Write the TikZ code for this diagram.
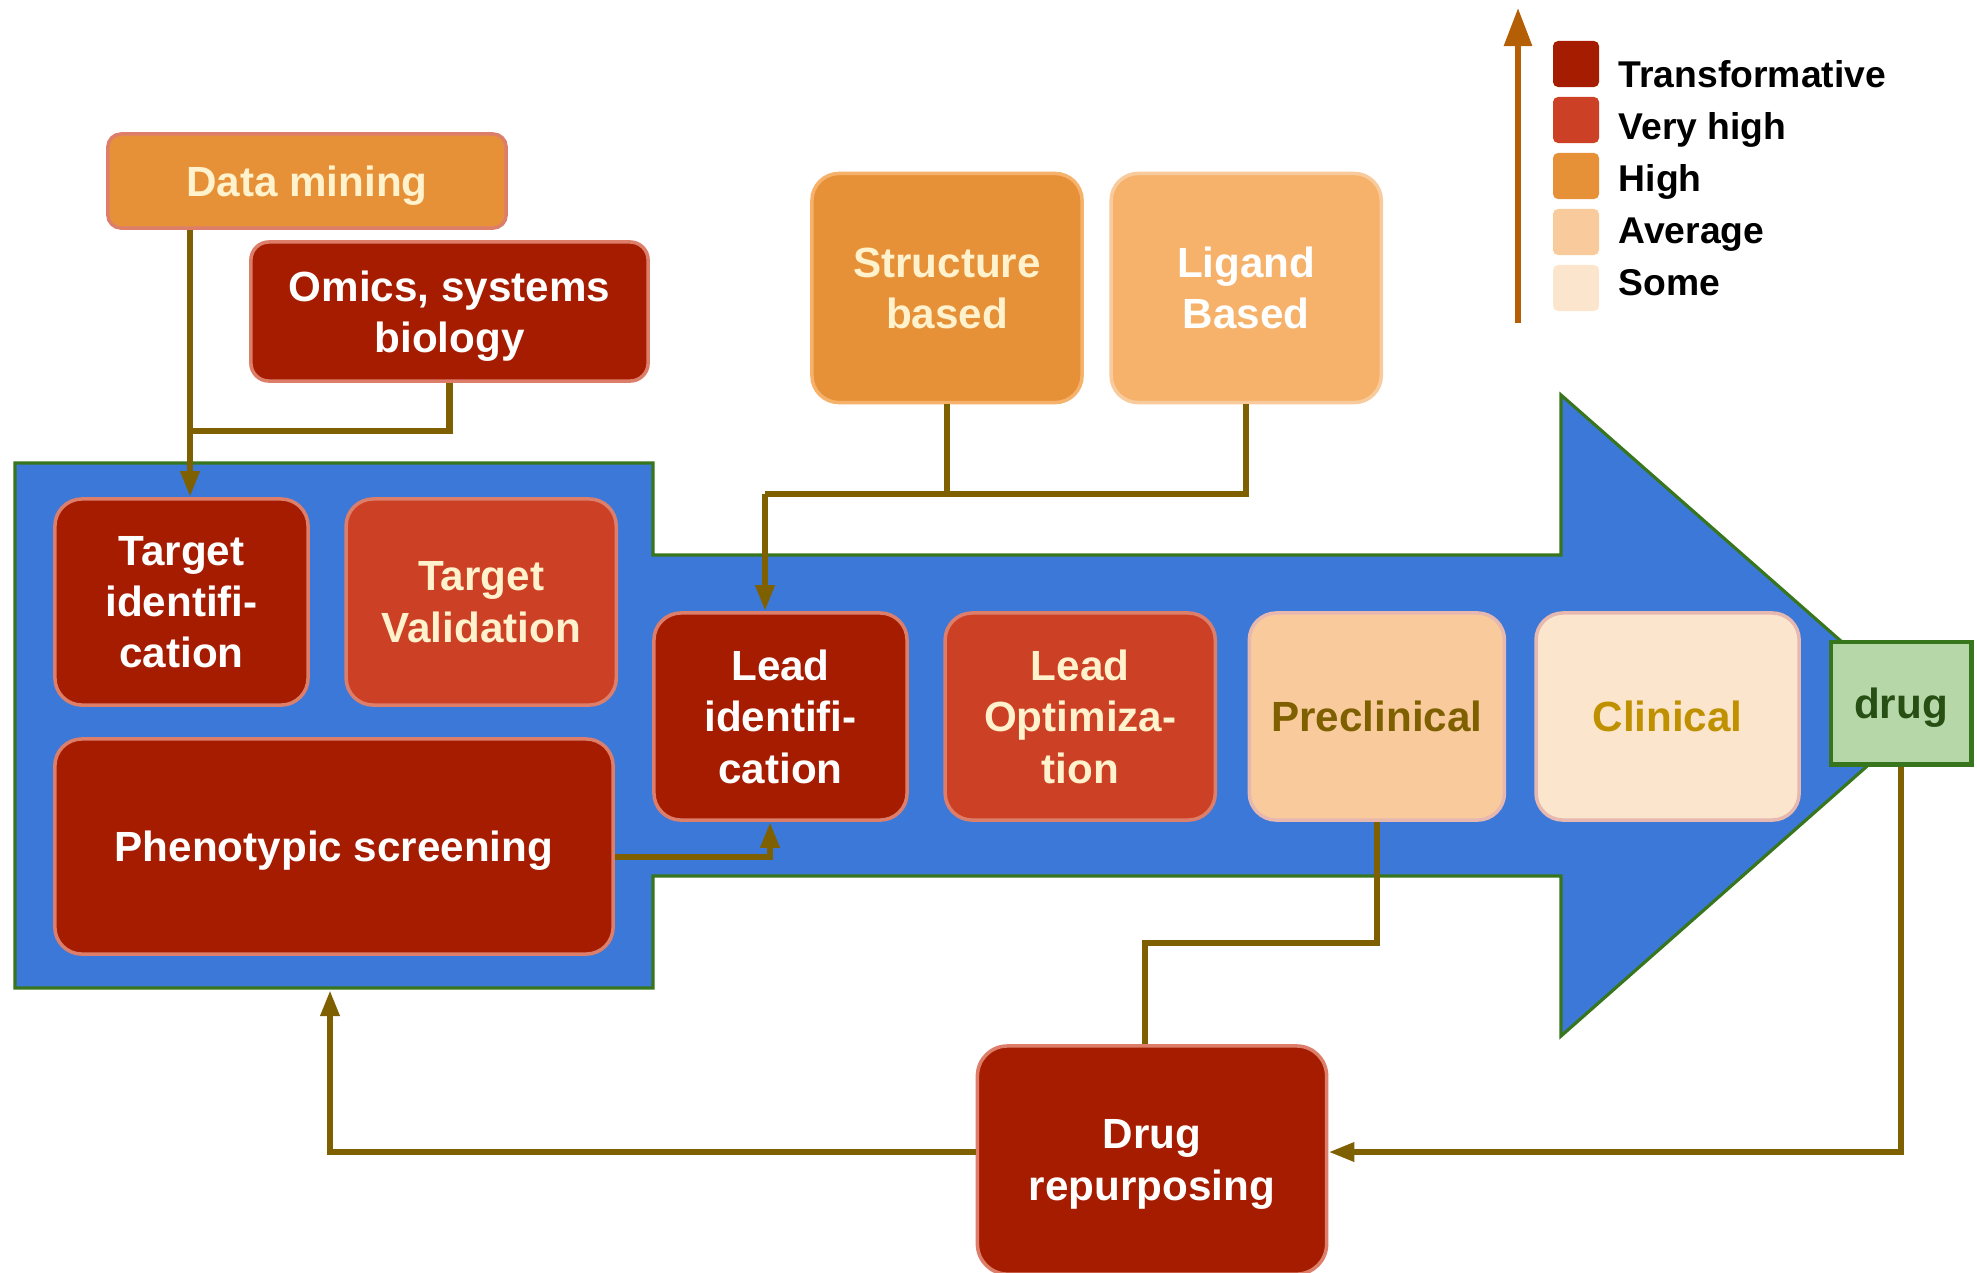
\documentclass[tikz,border=0pt]{standalone}
\usepackage{fontspec}
\setmainfont{Liberation Sans}
\usepackage{xcolor}
\usepackage{tikz}
\usetikzlibrary{positioning,arrows.meta}

\definecolor{transfred}{HTML}{A61C00}
\definecolor{vhighred}{HTML}{CC4125}
\definecolor{highorange}{HTML}{E69138}
\definecolor{liteorange}{HTML}{F6B26B}
\definecolor{avgpeach}{HTML}{F9CB9C}
\definecolor{somecream}{HTML}{FCE5CD}
\definecolor{salmonrim}{HTML}{DD7E6B}
\definecolor{pinkrim}{HTML}{E6B8AF}
\definecolor{creamtext}{HTML}{FFF2CC}
\definecolor{olivetext}{HTML}{7F6000}
\definecolor{goldtext}{HTML}{BF9000}
\definecolor{flowblue}{HTML}{3C78D8}
\definecolor{flowrim}{HTML}{38761D}
\definecolor{drugfill}{HTML}{B6D7A8}
\definecolor{drugtext}{HTML}{274E13}
\definecolor{conline}{HTML}{7F6000}
\definecolor{scalebrown}{HTML}{B45F06}

\begin{document}
\begin{tikzpicture}[
			x=0.01cm, y=-0.01cm,
			stage/.style={
				draw, rectangle, rounded corners=0.27cm, align=center,
				line width=1pt, inner sep=0pt, text depth=0pt,
				font=\bfseries\fontsize{12pt}{14.6pt}\selectfont
			},
			transf/.style={stage, fill=transfred, draw=salmonrim, text=white},
			vhigh/.style={stage, fill=vhighred, draw=salmonrim, text=creamtext},
			avg/.style={stage, fill=avgpeach, draw=pinkrim, text=olivetext},
			some/.style={stage, fill=somecream, draw=pinkrim, text=goldtext},
			flow/.style={fill=flowblue, draw=flowrim, line width=0.9pt, line join=miter},
			swatch/.style={rectangle, rounded corners=0.05cm, minimum size=0.46cm, inner sep=0pt},
			legtext/.style={anchor=base west, inner sep=0pt, font=\bfseries\fontsize{10.6pt}{12pt}\selectfont},
			conn/.style={draw=conline, line width=1.8pt},
			arr/.style={conn, -{Triangle[length=0.26cm, width=0.18cm]}}
			]
			\useasboundingbox (0,0) rectangle (1977,1272);
			
			%==================== 流程箭头 ====================
			\draw[flow] (15,463) -- (653,463) -- (653,555) -- (1561,555) -- (1561,395)
			-- (1925,715) -- (1561,1036) -- (1561,876) -- (653,876) -- (653,988)
			-- (15,988) -- cycle;
			
			%==================== 靶点阶段 ====================
			\node[transf, minimum width=2.53cm, minimum height=2.06cm] (tgtid) at (181.5,602) {
				Target\\ identifi-\\ cation
			};
			\node[vhigh, minimum width=2.70cm, minimum height=2.06cm, right=0.345cm of tgtid] (tgtval) {
				Target\\ Validation
			};
			\node[transf, minimum width=5.58cm, minimum height=2.15cm] (pheno) at (334,846.5) {Phenotypic screening};
			
			%==================== 先导与临床阶段 ====================
			\node[transf, minimum width=2.53cm, minimum height=2.07cm] (leadid) at (780.5,716.5) {
				Lead\\ identifi-\\ cation
			};
			\node[vhigh, minimum width=2.70cm, minimum height=2.07cm, right=0.345cm of leadid] (leadopt) {
				Lead\\ Optimiza-\\ tion
			};
			\node[avg, minimum width=2.55cm, minimum height=2.07cm, right=0.305cm of leadopt] (precl) {Preclinical};
			\node[some, minimum width=2.63cm, minimum height=2.07cm, right=0.28cm of precl] (clin) {Clinical};
			\node[stage, rounded corners=0pt, fill=drugfill, draw=flowrim, line width=1.4pt, text=drugtext,
			minimum width=1.40cm, minimum height=1.22cm] (drug) at (1901,703) {drug};
			
			%==================== 数据来源 ====================
			\node[stage, rounded corners=0.13cm, fill=highorange, draw=salmonrim, text=creamtext,
			minimum width=3.98cm, minimum height=0.94cm] (mining) at (307,181) {Data mining};
			\node[transf, rounded corners=0.18cm, minimum width=3.97cm, minimum height=1.39cm] (omics) at (449.5,311.5) {
				Omics, systems\\ biology
			};
			\node[stage, fill=highorange, draw=liteorange, text=creamtext,
			minimum width=2.70cm, minimum height=2.29cm] (struct) at (947,288) {
				Structure\\ based
			};
			\node[stage, fill=liteorange, draw=avgpeach, text=white,
			minimum width=2.70cm, minimum height=2.29cm, right=0.255cm of struct] (ligand) {
				Ligand\\ Based
			};
			
			%==================== 重定位 ====================
			\node[transf, rounded corners=0.3cm, minimum width=3.49cm, minimum height=2.28cm] (repurp) at (1152,1160) {
				Drug\\ repurposing
			};
			
			%==================== 图例 ====================
			\coordinate (scalebot) at (1518,323);
			\coordinate (scaletop) at (1518,8);
			\draw[draw=scalebrown, line width=1.7pt, -{Triangle[length=0.38cm, width=0.27cm]}] (scalebot) -- (scaletop);
			
			\node[swatch, fill=transfred] (sw1) at (1576,64) {};
			\node[swatch, fill=vhighred] (sw2) at (1576,120) {};
			\node[swatch, fill=highorange] (sw3) at (1576,176) {};
			\node[swatch, fill=avgpeach] (sw4) at (1576,232) {};
			\node[swatch, fill=somecream] (sw5) at (1576,288) {};
			
			\node[legtext] (lg1) at (1618,87) {Transformative};
			\node[legtext] (lg2) at (1618,139) {Very high};
			\node[legtext] (lg3) at (1618,191) {High};
			\node[legtext] (lg4) at (1618,243) {Average};
			\node[legtext] (lg5) at (1618,295) {Some};
			
			%==================== 连线 ====================
			\coordinate (minejoin) at (190,431);
			\coordinate (leadjoin) at (765,494);
			\coordinate (phenojoin) at (770,857);
			\coordinate (repjoin) at (1145,943);
			\coordinate (flowfoot) at (330,990);
			
			\draw[arr] (mining.south -| minejoin) -- (tgtid.north -| minejoin);
			\draw[conn] (omics.south) |- (minejoin);
			\draw[conn] (struct.south) |- (leadjoin);
			\draw[conn] (ligand.south) |- (leadjoin);
			\draw[arr] (leadjoin) -- (leadid.north -| leadjoin);
			\draw[arr] (pheno.east |- phenojoin) -| (leadid.south -| phenojoin);
			\draw[conn] (precl.south) |- (repjoin) -- (repjoin |- repurp.north);
			\draw[arr] ([yshift=0.08cm]repurp.west) -| (flowfoot);
			\draw[arr] (drug.south) |- ([yshift=0.08cm]repurp.east);
			
		\end{tikzpicture}
\end{document}
